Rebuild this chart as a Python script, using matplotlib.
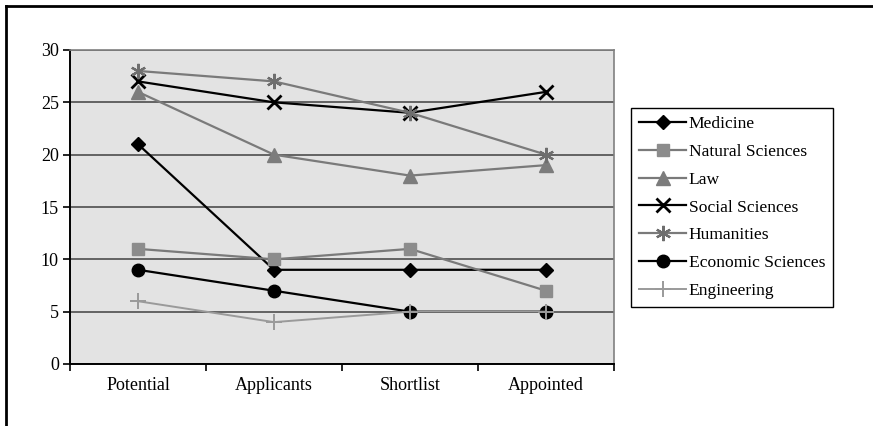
import matplotlib.pyplot as plt
from matplotlib.lines import Line2D

plt.rcParams['font.family'] = ['Liberation Serif', 'DejaVu Serif']

# stages of the selection process
stages = ['Potential', 'Applicants', 'Shortlist', 'Appointed']

medicine = [21, 9, 9, 9]
natural_sciences = [11, 10, 11, 7]
law = [26, 20, 18, 19]
social_sciences = [27, 25, 24, 26]
humanities = [28, 27, 24, 20]
economic_sciences = [9, 7, 5, 5]
engineering = [6, 4, 5, 5]

W, H = 873, 426
fig = plt.figure(figsize=(W / 100, H / 100), dpi=100)
ax = fig.add_axes([70 / W, 1 - 364 / H, 544 / W, 314 / H])
ax.set_facecolor('#e3e3e3')

x = range(len(stages))
dark = 'black'
grey = '#7a7a7a'
light = '#9a9a9a'

ax.plot(x, medicine, color=dark, lw=1.6, marker='D', ms=7, mfc=dark, mec=dark, label='Medicine')
ax.plot(x, natural_sciences, color=grey, lw=1.6, marker='s', ms=9, mfc='#8c8c8c', mec='#8c8c8c', label='Natural Sciences')
ax.plot(x, law, color=grey, lw=1.6, marker='^', ms=10, mfc='#7c7c7c', mec='#7c7c7c', label='Law')
ax.plot(x, social_sciences, color=dark, lw=1.6, marker='x', ms=10, mew=2, mec=dark, label='Social Sciences')
# asterisk = x + vertical bar
ax.plot(x, humanities, color=grey, lw=1.6, marker=(6, 2, 0), ms=11, mew=1.6, mec='#6e6e6e', label='Humanities')
ax.plot(x, economic_sciences, color=dark, lw=1.6, marker='o', ms=9, mfc=dark, mec=dark, label='Economic Sciences')
ax.plot(x, engineering, color=light, lw=1.4, marker='+', ms=11, mew=1.4, mec=light, label='Engineering')

ax.set_xlim(-0.5, len(stages) - 0.5)
ax.set_ylim(0, 30)
ax.set_yticks(range(0, 31, 5))
ax.yaxis.grid(True, color='#404040', lw=1.1)
ax.set_axisbelow(True)

# category boundaries get the ticks, names sit in between
ax.set_xticks([i - 0.5 for i in range(len(stages) + 1)])
ax.set_xticklabels([])
ax.set_xticks(list(x), minor=True)
ax.set_xticklabels(stages, minor=True)
ax.tick_params(axis='x', which='minor', length=0, pad=9, labelsize=13)
ax.tick_params(axis='x', which='major', length=5, width=1.2, direction='out')
ax.tick_params(axis='y', length=5, width=1.2, direction='out', pad=3, labelsize=13)

for side in ['top', 'right']:
    ax.spines[side].set_color('#808080')
    ax.spines[side].set_linewidth(1.2)
for side in ['left', 'bottom']:
    ax.spines[side].set_color('black')
    ax.spines[side].set_linewidth(1.4)

leg = fig.legend(loc='upper left', bbox_to_anchor=(631 / W, 1 - 108 / H), borderaxespad=0,
                 fontsize=12.6, frameon=True, fancybox=False, edgecolor='black', framealpha=1,
                 handlelength=2.7, labelspacing=0.66, borderpad=0.45, handletextpad=0.15)
leg.get_frame().set_linewidth(1.0)

# outer frame (left and top edges visible)
fig.add_artist(Line2D([6 / W, 6 / W], [0, 1 - 6 / H], color='black', lw=2, transform=fig.transFigure))
fig.add_artist(Line2D([6 / W, 1], [1 - 6 / H, 1 - 6 / H], color='black', lw=2, transform=fig.transFigure))

fig.savefig('out.png', dpi=100)
